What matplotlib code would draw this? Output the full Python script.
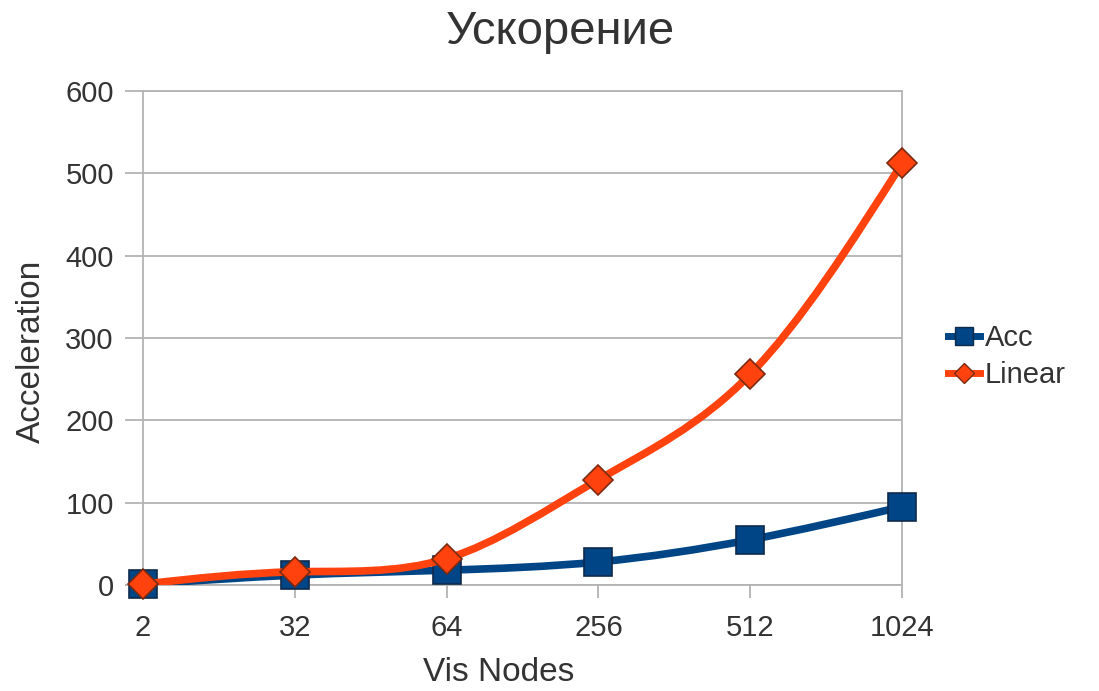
import numpy as np
import matplotlib.pyplot as plt
from matplotlib.path import Path
from matplotlib.patches import PathPatch
from matplotlib.lines import Line2D

plt.rcParams['font.family'] = ['Liberation Sans', 'DejaVu Sans']

nodes = ['2', '32', '64', '256', '512', '1024']
acc = [1, 12, 18, 28, 55, 95]
linear = [1, 16, 32, 128, 256, 512]

blue = '#004586'
orange = '#ff420e'
grid_col = '#b3b3b3'
text_col = '#333333'


def smooth_path(xs, ys):
    # natural cubic spline drawn as bezier segments (like the "smooth" line option)
    xs = np.asarray(xs, float)
    ys = np.asarray(ys, float)
    n = len(ys)
    A = np.zeros((n, n))
    r = np.zeros(n)
    A[0, 0], A[0, 1], r[0] = 2, 1, 3 * (ys[1] - ys[0])
    A[-1, -2], A[-1, -1], r[-1] = 1, 2, 3 * (ys[-1] - ys[-2])
    for i in range(1, n - 1):
        A[i, i - 1], A[i, i], A[i, i + 1] = 1, 4, 1
        r[i] = 3 * (ys[i + 1] - ys[i - 1])
    d = np.linalg.solve(A, r)
    verts = [(xs[0], ys[0])]
    codes = [Path.MOVETO]
    for i in range(n - 1):
        h = xs[i + 1] - xs[i]
        verts += [(xs[i] + h / 3, ys[i] + d[i] / 3),
                  (xs[i + 1] - h / 3, ys[i + 1] - d[i + 1] / 3),
                  (xs[i + 1], ys[i + 1])]
        codes += [Path.CURVE4] * 3
    return Path(verts, codes)


fig = plt.figure(figsize=(10.99, 6.91), dpi=100)
ax = fig.add_axes([0.1301, 0.1534, 0.6907, 0.7149])

x = np.arange(len(nodes))

ax.add_patch(PathPatch(smooth_path(x, acc), facecolor='none', edgecolor=blue,
                       lw=5.5, capstyle='round', joinstyle='round', zorder=3))
ax.plot(x, acc, ls='none', marker='s', ms=20, color=blue, mec='#0f2a4a',
        mew=1.2, zorder=4, clip_on=False)
ax.add_patch(PathPatch(smooth_path(x, linear), facecolor='none', edgecolor=orange,
                       lw=5.5, capstyle='round', joinstyle='round', zorder=5))
ax.plot(x, linear, ls='none', marker='D', ms=15.5, color=orange, mec='#7a2a10',
        mew=1.2, zorder=6, clip_on=False)

ax.set_xlim(0, len(nodes) - 1)
ax.set_ylim(0, 600)
ax.set_xticks(x)
ax.set_xticklabels(nodes)
ax.set_yticks(range(0, 601, 100))

ax.grid(axis='y', color=grid_col, lw=1.3)
ax.set_axisbelow(True)
for s in ax.spines.values():
    s.set_color(grid_col)
    s.set_linewidth(1.3)

ax.tick_params(axis='both', colors=grid_col, labelcolor=text_col, labelsize=21,
               width=1.3)
ax.tick_params(axis='y', length=13, pad=8)
ax.tick_params(axis='x', length=9, pad=12)

# title is centred over the whole chart area (plot + legend)
fig.suptitle('Ускорение', x=0.5095, y=0.985, va='top', fontsize=34, color=text_col)
ax.set_xlabel('Vis Nodes', fontsize=24, color=text_col)
ax.set_ylabel('Acceleration', fontsize=24, color=text_col)
ax.xaxis.set_label_coords(0.468, -0.146)
ax.yaxis.set_label_coords(-0.127, 0.472)

handles = [
    Line2D([], [], color=blue, lw=5, marker='s', ms=13, mec='#0f2a4a', mew=1),
    Line2D([], [], color=orange, lw=5, marker='D', ms=10, mec='#7a2a10', mew=1),
]
leg = ax.legend(handles, ['Acc', 'Linear'], loc='center left',
                bbox_to_anchor=(1.06, 0.462), frameon=False, fontsize=21,
                handlelength=1.1, handletextpad=0.17, labelspacing=0.32,
                borderaxespad=0, borderpad=0)
for t in leg.get_texts():
    t.set_color(text_col)

fig.savefig('out.png', dpi=100)
